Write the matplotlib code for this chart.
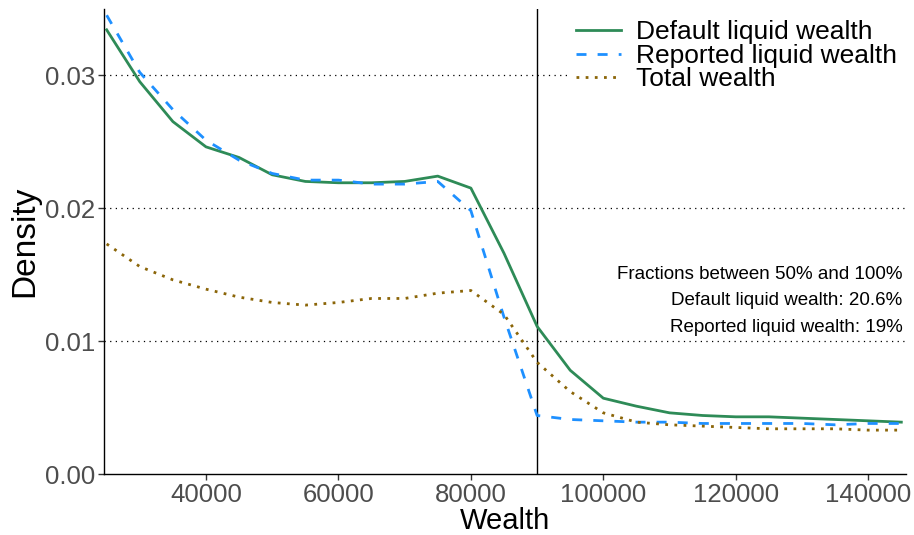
import numpy as np
import matplotlib
matplotlib.use("Agg")
import matplotlib.pyplot as plt

plt.rcParams['font.family'] = ['Liberation Sans', 'DejaVu Sans']

wealth = np.arange(25000, 145001, 5000)

default_liquid = [0.0334, 0.0295, 0.0265, 0.0246, 0.0238, 0.0225, 0.0220, 0.0219,
                  0.0219, 0.0220, 0.0224, 0.0215, 0.0166, 0.0111, 0.0078, 0.0057,
                  0.0051, 0.0046, 0.0044, 0.0043, 0.0043, 0.0042, 0.0041, 0.0040,
                  0.0039]
reported_liquid = [0.0345, 0.0302, 0.0274, 0.0251, 0.0236, 0.0226, 0.0221, 0.0221,
                   0.0218, 0.0218, 0.0220, 0.0198, 0.0118, 0.0044, 0.0041, 0.0040,
                   0.0039, 0.0039, 0.0038, 0.0038, 0.0038, 0.0038, 0.0037, 0.0038,
                   0.0038]
total_wealth = [0.0173, 0.0156, 0.0146, 0.0139, 0.0133, 0.0129, 0.0127, 0.0129,
                0.0132, 0.0132, 0.0136, 0.0138, 0.0120, 0.0084, 0.0062, 0.0046,
                0.0039, 0.0037, 0.0036, 0.0035, 0.0034, 0.0034, 0.0034, 0.0033,
                0.0033]

annot_lines = ["Fractions between 50% and 100%",
               "Default liquid wealth: 20.6%",
               "Reported liquid wealth: 19%"]

fig = plt.figure(figsize=(9.14, 5.35), dpi=100)
ax = fig.add_axes([0.1138, 0.114, 0.8774, 0.870])

for yv in [0.01, 0.02, 0.03]:
    ax.axhline(yv, color='black', lw=0.9, ls=(0, (1, 3.5)), zorder=1)

ax.plot(wealth, default_liquid, color='#2E8B57', lw=2.0, label='Default liquid wealth', zorder=3)
ax.plot(wealth, reported_liquid, color='#1E90FF', lw=2.0, ls=(0, (3.6, 4.0)),
        label='Reported liquid wealth', zorder=3)
ax.plot(wealth, total_wealth, color='#8B6508', lw=2.0, ls=(0, (1, 2.3)),
        label='Total wealth', zorder=3)

ax.axvline(90000, color='black', lw=1.0, zorder=2)

ax.set_xlim(24600, 145700)
ax.set_ylim(0, 0.0350)
ax.set_xticks([40000, 60000, 80000, 100000, 120000, 140000])
ax.set_yticks([0.00, 0.01, 0.02, 0.03])
ax.set_yticklabels(['0.00', '0.01', '0.02', '0.03'])
ax.tick_params(axis='both', labelsize=18.5, labelcolor='#4D4D4D', color='#333333',
               length=4, width=1, pad=2.5)

for s in ['top', 'right']:
    ax.spines[s].set_visible(False)
for s in ['left', 'bottom']:
    ax.spines[s].set_color('black')
    ax.spines[s].set_linewidth(1.0)

ax.set_xlabel('Wealth', fontsize=21, labelpad=0)
ax.set_ylabel('Density', fontsize=24, labelpad=3)

leg = ax.legend(loc='upper right', bbox_to_anchor=(1.015, 1.02), fontsize=19,
                frameon=True, fancybox=False, edgecolor='white', framealpha=1,
                handlelength=1.7, labelspacing=-0.02, borderpad=0.3,
                handletextpad=0.57)
leg.set_zorder(4)

for i, t in enumerate(annot_lines):
    ax.text(0.9955, 0.4296 - i * 0.0569, t, transform=ax.transAxes, ha='right',
            va='center', fontsize=13.5, color='black')

fig.savefig('out.png', dpi=100)
